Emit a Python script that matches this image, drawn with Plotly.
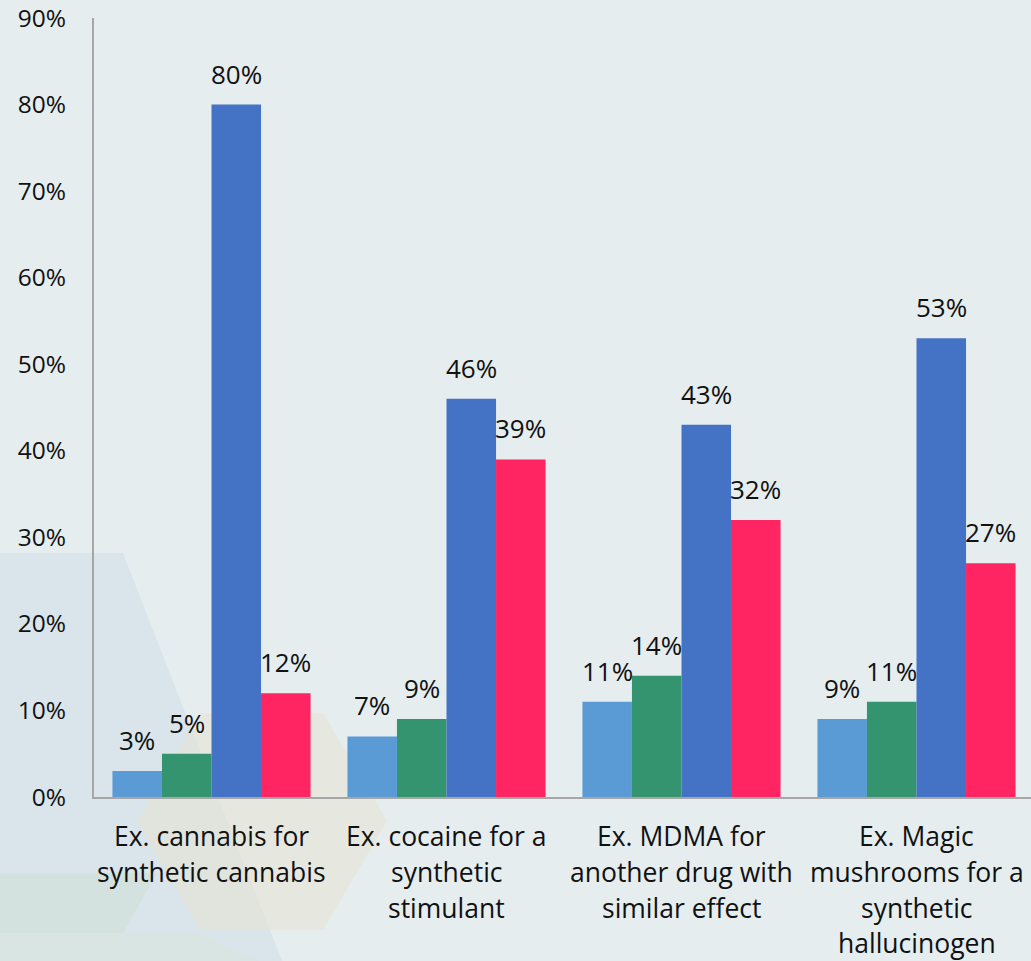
import plotly.graph_objects as go

# Category labels, split into the lines they are set on
categories = [
    "Ex. cannabis for synthetic cannabis",
    "Ex. cocaine for a synthetic stimulant",
    "Ex. MDMA for another drug with similar effect",
    "Ex. Magic mushrooms for a synthetic hallucinogen",
]
category_lines = [
    ["Ex. cannabis for", "synthetic cannabis"],
    ["Ex. cocaine for a", "synthetic", "stimulant"],
    ["Ex. MDMA for", "another drug with", "similar effect"],
    ["Ex. Magic", "mushrooms for a", "synthetic", "hallucinogen"],
]

# Series values (percent)
light_blue_vals = [3, 7, 11, 9]
green_vals = [5, 9, 14, 11]
blue_vals = [80, 46, 43, 53]
red_vals = [12, 39, 32, 27]

series = [light_blue_vals, green_vals, blue_vals, red_vals]
colors = ["#5b9bd5", "#34946f", "#4472c4", "#ff2562"]

y_tick_vals = [0, 10, 20, 30, 40, 50, 60, 70, 80, 90]
y_tick_text = [f"{v}%" for v in y_tick_vals]

W, H = 1031, 961
ML, MR, MT, MB = 94, 0, 18, 164
PW, PH = W - ML - MR, H - MT - MB
BARGAP = 0.157
FONT = "Open Sans"
TEXT = "#111111"

x_idx = list(range(len(categories)))

fig = go.Figure()
for vals, col in zip(series, colors):
    fig.add_trace(go.Bar(
        x=x_idx, y=vals, marker=dict(color=col, line=dict(width=0)),
        hoverinfo="skip", showlegend=False,
    ))

# value labels above each bar
bw = (1 - BARGAP) / len(series)
annotations = []
for j, vals in enumerate(series):
    for i, v in enumerate(vals):
        annotations.append(dict(
            x=i + (j - (len(series) - 1) / 2) * bw, y=v, xref="x", yref="y",
            text=f"{v}%", showarrow=False, yanchor="bottom", yshift=11,
            font=dict(family=FONT, size=26, color=TEXT),
        ))

# multi-line category labels under the axis
def py_to_paper(py):
    return (MT + PH - py) / PH

def px_to_paper(px):
    return (px - ML) / PW

LINE_TOP, LINE_STEP = 836, 35.8
for i, lines in enumerate(category_lines):
    for k, line in enumerate(lines):
        annotations.append(dict(
            x=i, y=py_to_paper(LINE_TOP + k * LINE_STEP), xref="x", yref="paper",
            text=line, showarrow=False, yanchor="middle", xanchor="center",
            font=dict(family=FONT, size=26.5, color=TEXT),
        ))

# faint hexagon decoration in the lower-left corner
def poly(points, fill, opacity=1.0):
    path = "M " + " L ".join(f"{px_to_paper(x):.5f},{py_to_paper(y):.5f}" for x, y in points) + " Z"
    return dict(type="path", path=path, xref="paper", yref="paper",
                fillcolor=fill, opacity=opacity, line=dict(width=0), layer="below")

shapes = [
    poly([(-5, 553), (123, 553), (284, 966), (-5, 966)], "#d9e5eb"),
    poly([(-5, 873), (157, 873), (123, 933), (-5, 933)], "#d3e2df"),
    poly([(-5, 933), (200, 933), (268, 966), (-5, 966)], "#d8e5e2"),
    poly([(200, 713), (323, 713), (387, 821), (323, 930), (200, 930), (137, 821)],
         "#e8e4cf", 0.5),
]

fig.update_layout(
    width=W, height=H,
    margin=dict(l=ML, r=MR, t=MT, b=MB, pad=0),
    paper_bgcolor="#e5edef", plot_bgcolor="rgba(0,0,0,0)",
    barmode="group", bargap=BARGAP, bargroupgap=0,
    font=dict(family=FONT, size=24, color=TEXT),
    annotations=annotations, shapes=shapes,
    xaxis=dict(
        range=[-0.5, -0.5 + PW / 235.0], showticklabels=False, ticks="",
        showgrid=False, zeroline=False, showline=True,
        linecolor="#a6a6a6", linewidth=2, fixedrange=True,
    ),
    yaxis=dict(
        range=[0, 90], tickvals=y_tick_vals, ticktext=y_tick_text, ticks="",
        showgrid=False, zeroline=False, showline=True,
        linecolor="#a6a6a6", linewidth=2, ticklabelstandoff=21,
        ticklabeloverflow="allow",
        tickfont=dict(family=FONT, size=24.5, color=TEXT), fixedrange=True,
    ),
)

fig.write_html("out.html", config={"displayModeBar": False})
